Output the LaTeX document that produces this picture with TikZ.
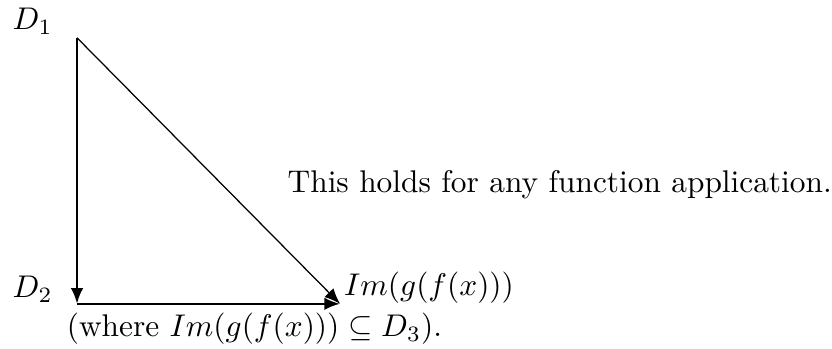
\documentclass[tikz,border=0pt]{standalone}
\usepackage{amsmath,amssymb}
\usetikzlibrary{arrows.meta,positioning}

\begin{document}
\begin{tikzpicture}[scale=0.99,>={Latex[length=5pt,width=4pt]},
  lbl/.style={inner sep=0pt,anchor=base west},
  map/.style={->,line width=0.8pt},
  comp/.style={->,line width=0.4pt},
]
\useasboundingbox (0,0) rectangle (9.42,3.95);

\coordinate (top) at (0.872,3.522);
\coordinate (corner) at (0.872,0.510);
\coordinate (tip) at (3.85,0.510);

\node[lbl] (d1) at (0.136,3.613) {$D_1$};
\node[lbl] (d2) at (0.136,0.578) {$D_2$};
\node[lbl] (im) at (3.89,0.600) {$Im(g(f(x)))$};
\node[lbl] (where) at (0.75,0.136) {(where $Im(g(f(x))) \subseteq D_3$).};
\node[lbl] (note) at (3.25,1.767) {This holds for any function application.};

\draw[map] (top) -- (corner);
\draw[map] (corner) -- (tip);
\draw[comp] (top) -- (tip);

\end{tikzpicture}
\end{document}
